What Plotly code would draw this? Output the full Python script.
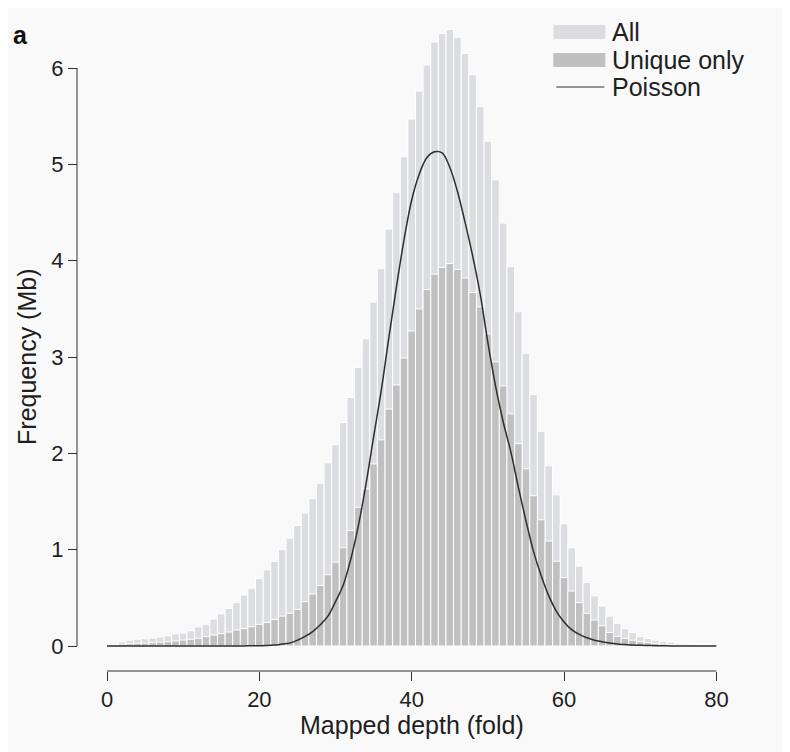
import plotly.graph_objects as go

# ---------------- data ----------------
depth = list(range(0, 81))

all_reads = [
    0.01, 0.03, 0.045, 0.06, 0.07, 0.076, 0.083, 0.093, 0.107, 0.125,
    0.135, 0.16, 0.20, 0.225, 0.28, 0.335, 0.39, 0.45, 0.53, 0.60,
    0.70, 0.79, 0.88, 1.00, 1.12, 1.25, 1.38, 1.53, 1.69, 1.90,
    2.09, 2.32, 2.58, 2.89, 3.19, 3.57, 3.92, 4.33, 4.71, 5.08,
    5.47, 5.76, 6.03, 6.27, 6.36, 6.40, 6.32, 6.15, 5.93, 5.60,
    5.24, 4.84, 4.39, 3.94, 3.47, 3.04, 2.61, 2.23, 1.87, 1.57,
    1.27, 1.02, 0.83, 0.66, 0.52, 0.415, 0.31, 0.235, 0.18, 0.14,
    0.10, 0.08, 0.06, 0.05, 0.04, 0.03, 0.025, 0.02, 0.015, 0.01,
    0.005,
]

unique_only = [
    0.005, 0.015, 0.02, 0.024, 0.028, 0.03, 0.035, 0.04, 0.045, 0.052,
    0.062, 0.07, 0.08, 0.097, 0.114, 0.128, 0.145, 0.166, 0.18, 0.20,
    0.225, 0.245, 0.275, 0.31, 0.34, 0.38, 0.46, 0.54, 0.63, 0.74,
    0.87, 1.02, 1.20, 1.44, 1.63, 1.89, 2.14, 2.46, 2.71, 2.99,
    3.27, 3.50, 3.70, 3.86, 3.93, 3.97, 3.91, 3.82, 3.67, 3.52,
    3.24, 2.95, 2.70, 2.41, 2.10, 1.84, 1.56, 1.31, 1.09, 0.88,
    0.71, 0.57, 0.45, 0.34, 0.27, 0.21, 0.14, 0.10, 0.08, 0.06,
    0.045, 0.035, 0.028, 0.02, 0.015, 0.012, 0.01, 0.008, 0.006, 0.004,
    0.002,
]

poisson = [
    0.0, 0.0, 0.0, 0.0, 0.0, 0.0, 0.0, 0.0, 0.0, 0.0,
    0.0, 0.0, 0.0, 0.0, 0.0, 0.0, 0.0, 0.0, 0.001, 0.002,
    0.003, 0.005, 0.01, 0.02, 0.03, 0.06, 0.10, 0.15, 0.22, 0.31,
    0.46, 0.63, 0.90, 1.25, 1.68, 2.17, 2.65, 3.20, 3.73, 4.22,
    4.63, 4.90, 5.07, 5.13, 5.12, 4.97, 4.72, 4.40, 4.05, 3.65,
    3.15, 2.70, 2.33, 2.02, 1.65, 1.30, 0.98, 0.73, 0.52, 0.36,
    0.25, 0.17, 0.12, 0.085, 0.06, 0.045, 0.03, 0.02, 0.015, 0.01,
    0.007, 0.005, 0.003, 0.002, 0.001, 0.0, 0.0, 0.0, 0.0, 0.0,
    0.0,
]

x_ticks = [0, 20, 40, 60, 80]
y_ticks = [0, 1, 2, 3, 4, 5, 6]
legend_labels = ["All", "Unique only", "Poisson"]

# ---------------- styles ----------------
OFF = 8                      # page body margin of the browser
W, H = 790 - OFF, 752 - OFF
BG = "#f9f9f9"
C_ALL = "#dcdde0"
C_UNI = "#c0c0c1"
C_LINE = "#2e2e2e"
FONT = "Liberation Sans, Arial, sans-serif"
TXT = "#1e1e1e"
TICK_SIZE = 22
TEXT_SIZE = 25

# paper box (screen pixels)
PL, PR, PT, PB = 77, 723.6, 10, 671
PW, PH = PR - PL, PB - PT


def px(xp):
    return (xp - PL) / PW


def py(yp):
    return (PB - yp) / PH


fig = go.Figure()
fig.add_trace(go.Bar(x=depth, y=all_reads, width=1, name=legend_labels[0],
                     marker=dict(color=C_ALL, line=dict(color="white", width=1))))
fig.add_trace(go.Bar(x=depth, y=unique_only, width=1, name=legend_labels[1],
                     marker=dict(color=C_UNI, line=dict(color="white", width=1))))
fig.add_trace(go.Scatter(x=depth, y=poisson, mode="lines", name=legend_labels[2],
                         line=dict(color=C_LINE, width=1.5, shape="spline")))

shapes = [
    # detached axis lines
    dict(type="line", xref="x", yref="paper", x0=x_ticks[0], x1=x_ticks[-1], y0=0, y1=0,
         line=dict(color=C_LINE, width=1)),
    dict(type="line", xref="paper", yref="y", x0=0, x1=0, y0=y_ticks[0], y1=y_ticks[-1],
         line=dict(color=C_LINE, width=1)),
    # legend swatches
    dict(type="rect", xref="paper", yref="paper", x0=px(553), x1=px(605), y0=py(39), y1=py(25),
         fillcolor=C_ALL, line=dict(width=0)),
    dict(type="rect", xref="paper", yref="paper", x0=px(553), x1=px(605), y0=py(67), y1=py(53),
         fillcolor=C_UNI, line=dict(width=0)),
    dict(type="line", xref="paper", yref="paper", x0=px(556), x1=px(604), y0=py(87), y1=py(87),
         line=dict(color=C_LINE, width=1)),
]


def label(text, x, y, xanchor="left", angle=0, size=TEXT_SIZE, color=TXT):
    return dict(text=text, x=px(x), y=py(y), xref="paper", yref="paper", textangle=angle,
                xanchor=xanchor, yanchor="middle", showarrow=False,
                font=dict(size=size, color=color, family=FONT))


annotations = [
    label(legend_labels[0], 610, 32),
    label(legend_labels[1], 610, 60),
    label(legend_labels[2], 610, 87),
    label("Mapped depth (fold)", 412, 725, xanchor="center"),
    label("Frequency (Mb)", 27, 357, xanchor="center", angle=-90),
    label("<b>a</b>", 11, 35, size=25, color="#111"),
]

# axis ranges chosen so that x: 0->107px, 80->716px ; y: 0->646px, 6->68px
xpp = (716 - 107) / 80.0
ypp = (646 - 68) / 6.0
x_lo, x_hi = -1.0, 81.0
x_dom0 = px(107 - xpp * 1.0)
y_bot_px = 650
y_lo = -(y_bot_px - 646) / ypp
y_hi = (646 - PT) / ypp
y_dom0 = py(y_bot_px)

fig.update_layout(
    width=W, height=H,
    margin=dict(l=PL - OFF, r=790 - PR, t=PT - OFF, b=752 - PB, pad=0),
    paper_bgcolor=BG, plot_bgcolor=BG,
    barmode="overlay",
    showlegend=False,
    font=dict(family=FONT, size=TICK_SIZE, color=TXT),
    shapes=shapes,
    annotations=annotations,
    xaxis=dict(range=[x_lo, x_hi], domain=[x_dom0, 1], anchor="free", position=0,
               showgrid=False, zeroline=False, showline=False,
               tickmode="array", tickvals=x_ticks, ticktext=[str(v) for v in x_ticks],
               ticks="outside", ticklen=9, tickwidth=1, tickcolor=C_LINE,
               tickfont=dict(size=TICK_SIZE, color=TXT, family=FONT)),
    yaxis=dict(range=[y_lo, y_hi], domain=[y_dom0, 1], anchor="free", position=0,
               showgrid=False, zeroline=False, showline=False,
               tickmode="array", tickvals=y_ticks, ticktext=[str(v) for v in y_ticks],
               ticks="outside", ticklen=9, tickwidth=1, tickcolor=C_LINE,
               tickfont=dict(size=TICK_SIZE, color=TXT, family=FONT)),
)

fig.write_html("out.html")
